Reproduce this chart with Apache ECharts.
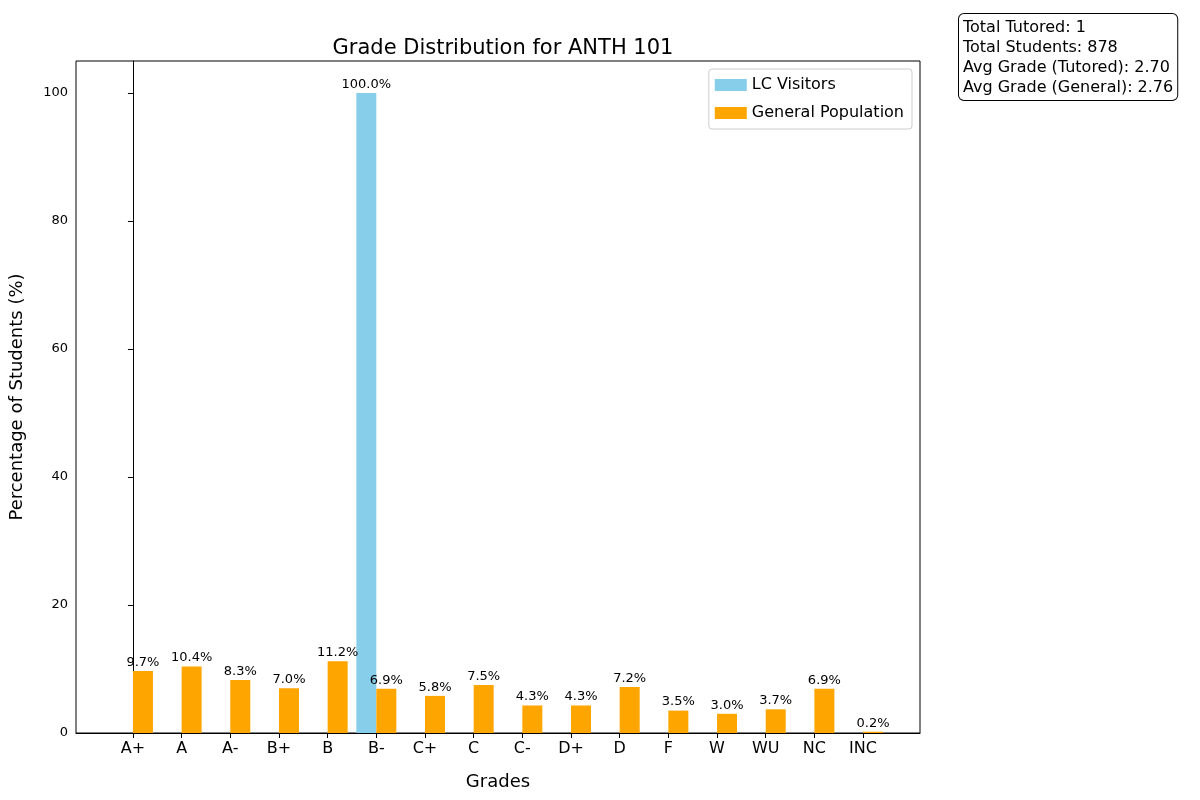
<!DOCTYPE html>
<html>
<head>
<meta charset="UTF-8">
<script src="https://cdn.jsdelivr.net/npm/echarts@6/dist/echarts.min.js"></script>
<style>body{margin:0}#main{width:1200px;height:800px}</style>
</head>
<body>
<div id="main"></div>
<script>
var grades = ['A+', 'A', 'A-', 'B+', 'B', 'B-', 'C+', 'C', 'C-', 'D+', 'D', 'F', 'W', 'WU', 'NC', 'INC'];
var lcVisitors = [0, 0, 0, 0, 0, 100, 0, 0, 0, 0, 0, 0, 0, 0, 0, 0];
var generalPop = [9.7, 10.4, 8.3, 7.0, 11.2, 6.9, 5.8, 7.5, 4.3, 4.3, 7.2, 3.5, 3.0, 3.7, 6.9, 0.2];
var yTicks = [0, 20, 40, 60, 80, 100];
var statsText = ['Total Tutored: 1', 'Total Students: 878', 'Avg Grade (Tutored): 2.70', 'Avg Grade (General): 2.76'];

var idx = grades.map(function (g, i) { return i; });
var font = 'DejaVu Sans';
var chart = echarts.init(document.getElementById('main'));
chart.setOption({
  animation: false,
  textStyle: { fontFamily: font },
  title: {
    text: 'Grade Distribution for ANTH 101', left: 498, top: 33, textAlign: 'center',
    textStyle: { fontSize: 21, fontWeight: 'normal', color: '#000', fontFamily: font }
  },
  grid: { left: 76, right: 280, top: 61, bottom: 67, show: true, borderColor: '#000', borderWidth: 1 },
  legend: {
    right: 288, top: 69, orient: 'vertical', itemWidth: 32, itemHeight: 12, itemGap: 12,
    padding: [8, 8, 8, 6], borderColor: '#ccc', borderWidth: 1, borderRadius: 3,
    textStyle: { fontSize: 16, color: '#000' },
    data: [{ name: 'LC Visitors', icon: 'rect' }, { name: 'General Population', icon: 'rect' }]
  },
  xAxis: {
    type: 'value', min: -1.17, max: 16.17,
    name: 'Grades', nameLocation: 'middle', nameGap: 40,
    nameTextStyle: { fontSize: 18, color: '#000' },
    axisLine: { lineStyle: { color: '#000' } },
    axisTick: { show: true, customValues: idx, lineStyle: { color: '#000' } },
    axisLabel: {
      customValues: idx, fontSize: 16, color: '#000', margin: 8,
      formatter: function (v) { return grades[Math.round(v)]; }
    },
    splitLine: { show: false }
  },
  yAxis: {
    type: 'value', min: 0, max: 105,
    name: 'Percentage of Students (%)', nameLocation: 'middle', nameGap: 50,
    nameTextStyle: { fontSize: 18, color: '#000' },
    axisLine: { show: true, lineStyle: { color: '#000' } },
    axisTick: { show: true, customValues: yTicks, lineStyle: { color: '#000' } },
    axisLabel: { customValues: yTicks, fontSize: 13, color: '#000' },
    splitLine: { show: false }
  },
  graphic: [{
    type: 'text', left: 958, top: 13,
    style: {
      text: statsText.join('\n'), font: '16px DejaVu Sans', fill: '#000', lineHeight: 20,
      backgroundColor: '#fff', borderColor: '#000', borderWidth: 1, borderRadius: 5, padding: [4, 4, 2, 4]
    }
  }],
  series: [{
    name: 'LC Visitors', type: 'bar', barWidth: 20, barGap: '0%',
    itemStyle: { color: '#87CEEB' },
    data: idx.map(function (i) { return [i, lcVisitors[i]]; }),
    label: {
      show: true, position: 'top', distance: 2, fontSize: 13, color: '#000',
      formatter: function (p) { return p.value[1] > 0 ? p.value[1].toFixed(1) + '%' : ''; }
    }
  }, {
    name: 'General Population', type: 'bar', barWidth: 20, barGap: '0%',
    itemStyle: { color: '#FFA500' },
    data: idx.map(function (i) { return [i, generalPop[i]]; }),
    label: {
      show: true, position: 'top', distance: 2, fontSize: 13, color: '#000',
      formatter: function (p) { return p.value[1].toFixed(1) + '%'; }
    }
  }]
});
</script>
</body>
</html>
